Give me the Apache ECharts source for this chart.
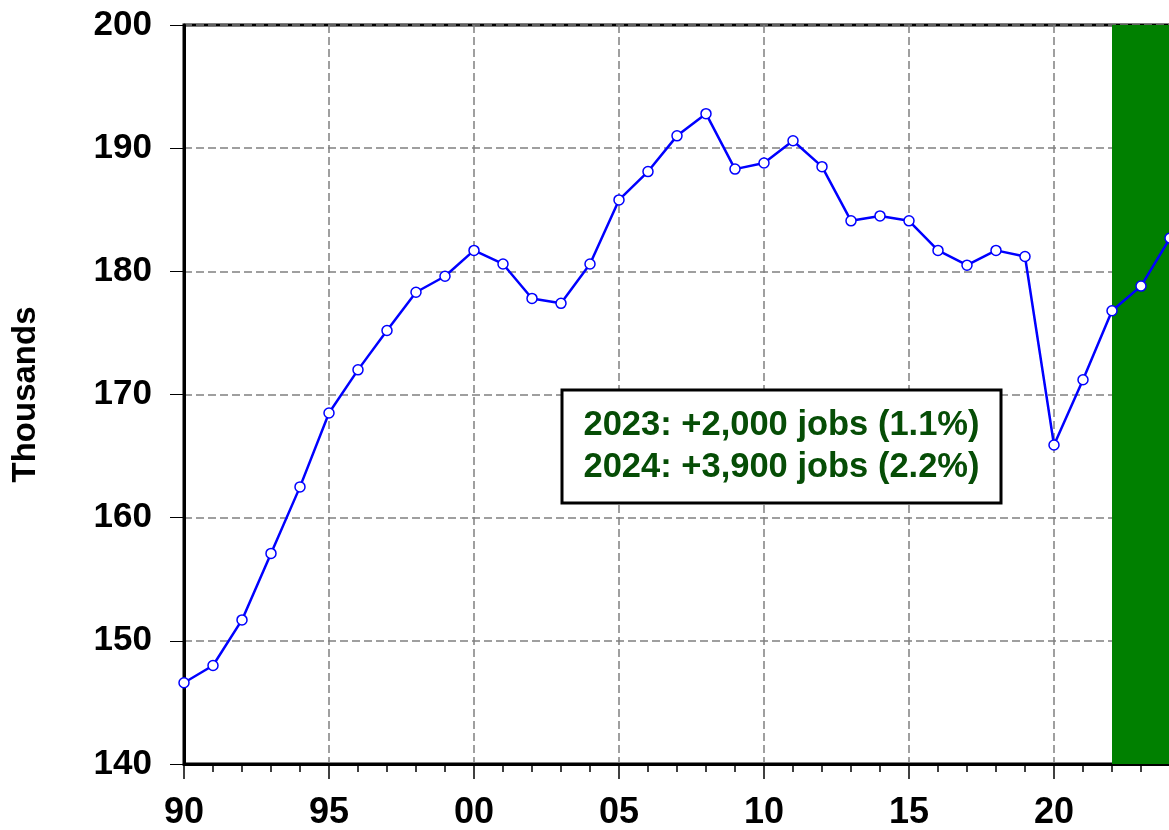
<!DOCTYPE html>
<html lang="en">
<head>
	<meta charset="UTF-8">
	<title>Thousands</title>
	<script src="https://cdn.jsdelivr.net/npm/echarts@6/dist/echarts.min.js"></script>
	<style>
		html, body { margin: 0; padding: 0; background: #fff; }
		#main { width: 1169px; height: 830px; }
	</style>
</head>
<body>
	<div id="main"></div>
<script>
// 数据
var years = [1990, 1991, 1992, 1993, 1994, 1995, 1996, 1997, 1998, 1999,
	2000, 2001, 2002, 2003, 2004, 2005, 2006, 2007, 2008, 2009,
	2010, 2011, 2012, 2013, 2014, 2015, 2016, 2017, 2018, 2019,
	2020, 2021, 2022, 2023, 2024];
var jobs = [146.6, 148.0, 151.7, 157.1, 162.5, 168.5, 172.0, 175.2, 178.3, 179.6,
	181.7, 180.6, 177.8, 177.4, 180.6, 185.8, 188.1, 191.0, 192.8, 188.3,
	188.8, 190.6, 188.5, 184.1, 184.5, 184.1, 181.7, 180.5, 181.7, 181.2,
	165.9, 171.2, 176.8, 178.8, 182.7];
var shadeStart = 2022;
var shadeEnd = 2025;
var noteLines = ['2023: +2,000 jobs (1.1%)', '2024: +3,900 jobs (2.2%)'];

var font = 'Liberation Sans, Arial, sans-serif';
var gridLine = { show: true, lineStyle: { color: '#808080', width: 1.5, type: [8, 4] } };

var chart = echarts.init(document.getElementById('main'));

var option = {
	animation: false,
	backgroundColor: '#fff',
	grid: {
		left: 184,
		top: 25,
		width: 1015,
		height: 739,
		outerBoundsMode: 'none',
		containLabel: false,
		show: true,
		borderColor: '#000',
		borderWidth: 3,
		backgroundColor: 'transparent'
	},
	xAxis: {
		type: 'value',
		min: 1990,
		max: 2025,
		interval: 5,
		axisLine: { lineStyle: { color: '#000', width: 3 } },
		axisTick: { length: 15, lineStyle: { color: '#000', width: 1.5 } },
		minorTick: { show: true, splitNumber: 5, length: 8, lineStyle: { color: '#000', width: 1.5 } },
		axisLabel: {
			margin: 31,
			showMaxLabel: false,
			color: '#000',
			fontFamily: font,
			fontWeight: 'bold',
			fontSize: 36,
			formatter: function (v) {
				var s = String(v % 100);
				return s.length < 2 ? '0' + s : s;
			}
		},
		splitLine: gridLine
	},
	yAxis: {
		type: 'value',
		min: 140,
		max: 200,
		interval: 10,
		name: 'Thousands',
		nameLocation: 'middle',
		nameGap: 142,
		nameTextStyle: { color: '#000', fontFamily: font, fontWeight: 'bold', fontSize: 33 },
		axisLine: { show: true, lineStyle: { color: '#000', width: 3 } },
		axisTick: { show: true, length: 14, lineStyle: { color: '#000', width: 1 } },
		axisLabel: {
			margin: 32,
			color: '#000',
			fontFamily: font,
			fontWeight: 'bold',
			fontSize: 35
		},
		splitLine: gridLine
	},
	series: [
		{
			type: 'line',
			data: years.map(function (y, i) { return [y, jobs[i]]; }),
			symbol: 'circle',
			symbolSize: 10,
			lineStyle: { color: '#0000ff', width: 2.5 },
			itemStyle: { color: '#fff', borderColor: '#0000ff', borderWidth: 1.5 },
			markArea: {
				silent: true,
				itemStyle: { color: '#008000', opacity: 1 },
				data: [[{ xAxis: shadeStart }, { xAxis: shadeEnd }]]
			},
			z: 3
		}
	],
	graphic: [
		{
			type: 'rect',
			shape: { x: 562, y: 390, width: 439, height: 113 },
			style: { fill: '#fff', stroke: '#000', lineWidth: 3 },
			z: 10
		},
		{
			type: 'text',
			x: 781.5,
			y: 446,
			style: {
				text: noteLines.join('\n'),
				fill: '#064d06',
				font: 'bold 34.5px ' + font,
				lineHeight: 42,
				align: 'center',
				verticalAlign: 'middle'
			},
			z: 11
		}
	]
};

chart.setOption(option);
</script>
</body>
</html>
